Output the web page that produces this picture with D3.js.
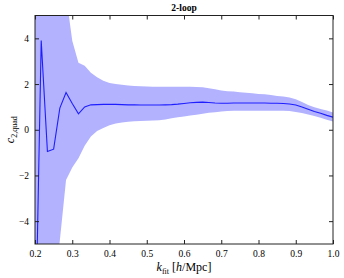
<!DOCTYPE html>
<html><head><meta charset="utf-8">
<script src="https://cdn.jsdelivr.net/npm/d3@7"></script>
<style>body{margin:0;background:#fff}svg{display:block}text{font-family:"Liberation Serif","DejaVu Serif",serif;fill:#000}</style>
</head><body>
<script>
const kFit = d3.range(49).map(i => 0.2 + i / 60);
const c2Mean = [-10.2, 3.9, -0.95, -0.85, 0.95, 1.63, 1.15, 0.7, 1.0, 1.09,
  1.1, 1.11, 1.11, 1.11, 1.1, 1.09, 1.09, 1.08, 1.08, 1.08,
  1.08, 1.09, 1.1, 1.12, 1.15, 1.18, 1.2, 1.21, 1.19, 1.17,
  1.16, 1.16, 1.17, 1.17, 1.17, 1.17, 1.17, 1.17, 1.16, 1.16,
  1.15, 1.13, 1.08, 1.0, 0.9, 0.8, 0.72, 0.63, 0.55];
const c2Upper = [20, 15, 10, 8, 6.8, 5.9, 3.9, 2.93, 2.8, 2.5,
  2.3, 2.14, 2.05, 2.0, 1.97, 1.94, 1.92, 1.9, 1.89, 1.88,
  1.88, 1.88, 1.88, 1.88, 1.88, 1.88, 1.87, 1.86, 1.82, 1.77,
  1.72, 1.69, 1.67, 1.64, 1.62, 1.6, 1.57, 1.55, 1.52, 1.48,
  1.45, 1.41, 1.33, 1.21, 1.08, 0.99, 0.91, 0.84, 0.76];
const c2Lower = [-20, -15, -10, -7, -4.85, -2.2, -1.65, -1.25, -0.7, -0.3,
  -0.06, 0.08, 0.2, 0.27, 0.32, 0.35, 0.37, 0.38, 0.39, 0.4,
  0.42, 0.45, 0.5, 0.55, 0.58, 0.62, 0.66, 0.7, 0.74, 0.77,
  0.8, 0.82, 0.83, 0.83, 0.83, 0.83, 0.83, 0.83, 0.83, 0.83,
  0.83, 0.82, 0.78, 0.73, 0.67, 0.6, 0.52, 0.44, 0.36];
const xTicks = [0.2, 0.3, 0.4, 0.5, 0.6, 0.7, 0.8, 0.9, 1.0];
const yTicks = [-4, -2, 0, 2, 4];
const title = "2-loop";

const W = 344, H = 278;
const L = 35, R = 333, T = 15.5, B = 244;
const svg = d3.select("body").append("svg").attr("width", W).attr("height", H);
const x = d3.scaleLinear().domain([0.2, 1.0]).range([L, R]);
const y = d3.scaleLinear().domain([-5, 5]).range([B, T]);

svg.append("clipPath").attr("id", "clip").append("rect")
  .attr("x", L).attr("y", T).attr("width", R - L).attr("height", B - T);
const g = svg.append("g").attr("clip-path", "url(#clip)");
const data = kFit.map((k, i) => ({k, m: c2Mean[i], u: c2Upper[i], l: c2Lower[i]}));
g.append("path").datum(data)
  .attr("d", d3.area().x(d => x(d.k)).y0(d => y(d.l)).y1(d => y(d.u)))
  .attr("fill", "rgb(178,178,255)");
g.append("path").datum(data)
  .attr("d", d3.line().x(d => x(d.k)).y(d => y(d.m)))
  .attr("fill", "none").attr("stroke", "rgb(30,30,255)").attr("stroke-width", 1.1);

const fmtX = d => d3.format(".1f")(d);
const fmtY = d => (d < 0 ? "\u2212" + Math.abs(d) : String(d));
const ax = [
  d3.axisBottom(x).tickValues(xTicks).tickSize(-4).tickPadding(6).tickFormat(fmtX),
  d3.axisTop(x).tickValues(xTicks).tickSize(-4).tickFormat(""),
  d3.axisLeft(y).tickValues(yTicks).tickSize(-4).tickPadding(6).tickFormat(fmtY),
  d3.axisRight(y).tickValues(yTicks).tickSize(-4).tickFormat("")
];
const pos = [[0, B], [0, T], [L, 0], [R, 0]];
ax.forEach((a, i) => {
  const gg = svg.append("g").attr("transform", `translate(${pos[i][0]},${pos[i][1]})`).call(a);
  gg.select(".domain").remove();
  gg.selectAll("line").attr("stroke", "#222");
  gg.selectAll("text").attr("font-size", 9.5).attr("font-family", "Liberation Serif").attr("fill", "#222");
});
svg.append("rect").attr("x", L).attr("y", T).attr("width", R - L).attr("height", B - T)
  .attr("fill", "none").attr("stroke", "#222").attr("stroke-width", 1);

svg.append("text").attr("x", (L + R) / 2).attr("y", 11).attr("text-anchor", "middle")
  .attr("font-size", 9.5).attr("font-weight", "bold").text(title);

const xl = svg.append("text").attr("x", (L + R) / 2).attr("y", 271).attr("text-anchor", "middle").attr("font-size", 12);
xl.append("tspan").attr("font-style", "italic").text("k");
xl.append("tspan").attr("font-size", 8).attr("dy", 2.5).text("fit");
xl.append("tspan").attr("dy", -2.5).text(" [");
xl.append("tspan").attr("font-style", "italic").text("h");
xl.append("tspan").text("/Mpc]");

const yl = svg.append("text").attr("transform", `translate(14,${(T + B) / 2}) rotate(-90)`)
  .attr("text-anchor", "middle").attr("font-size", 12);
yl.append("tspan").attr("font-style", "italic").text("c");
yl.append("tspan").attr("font-size", 8).attr("dy", 2.5).text("2,quad");
</script>
</body></html>
